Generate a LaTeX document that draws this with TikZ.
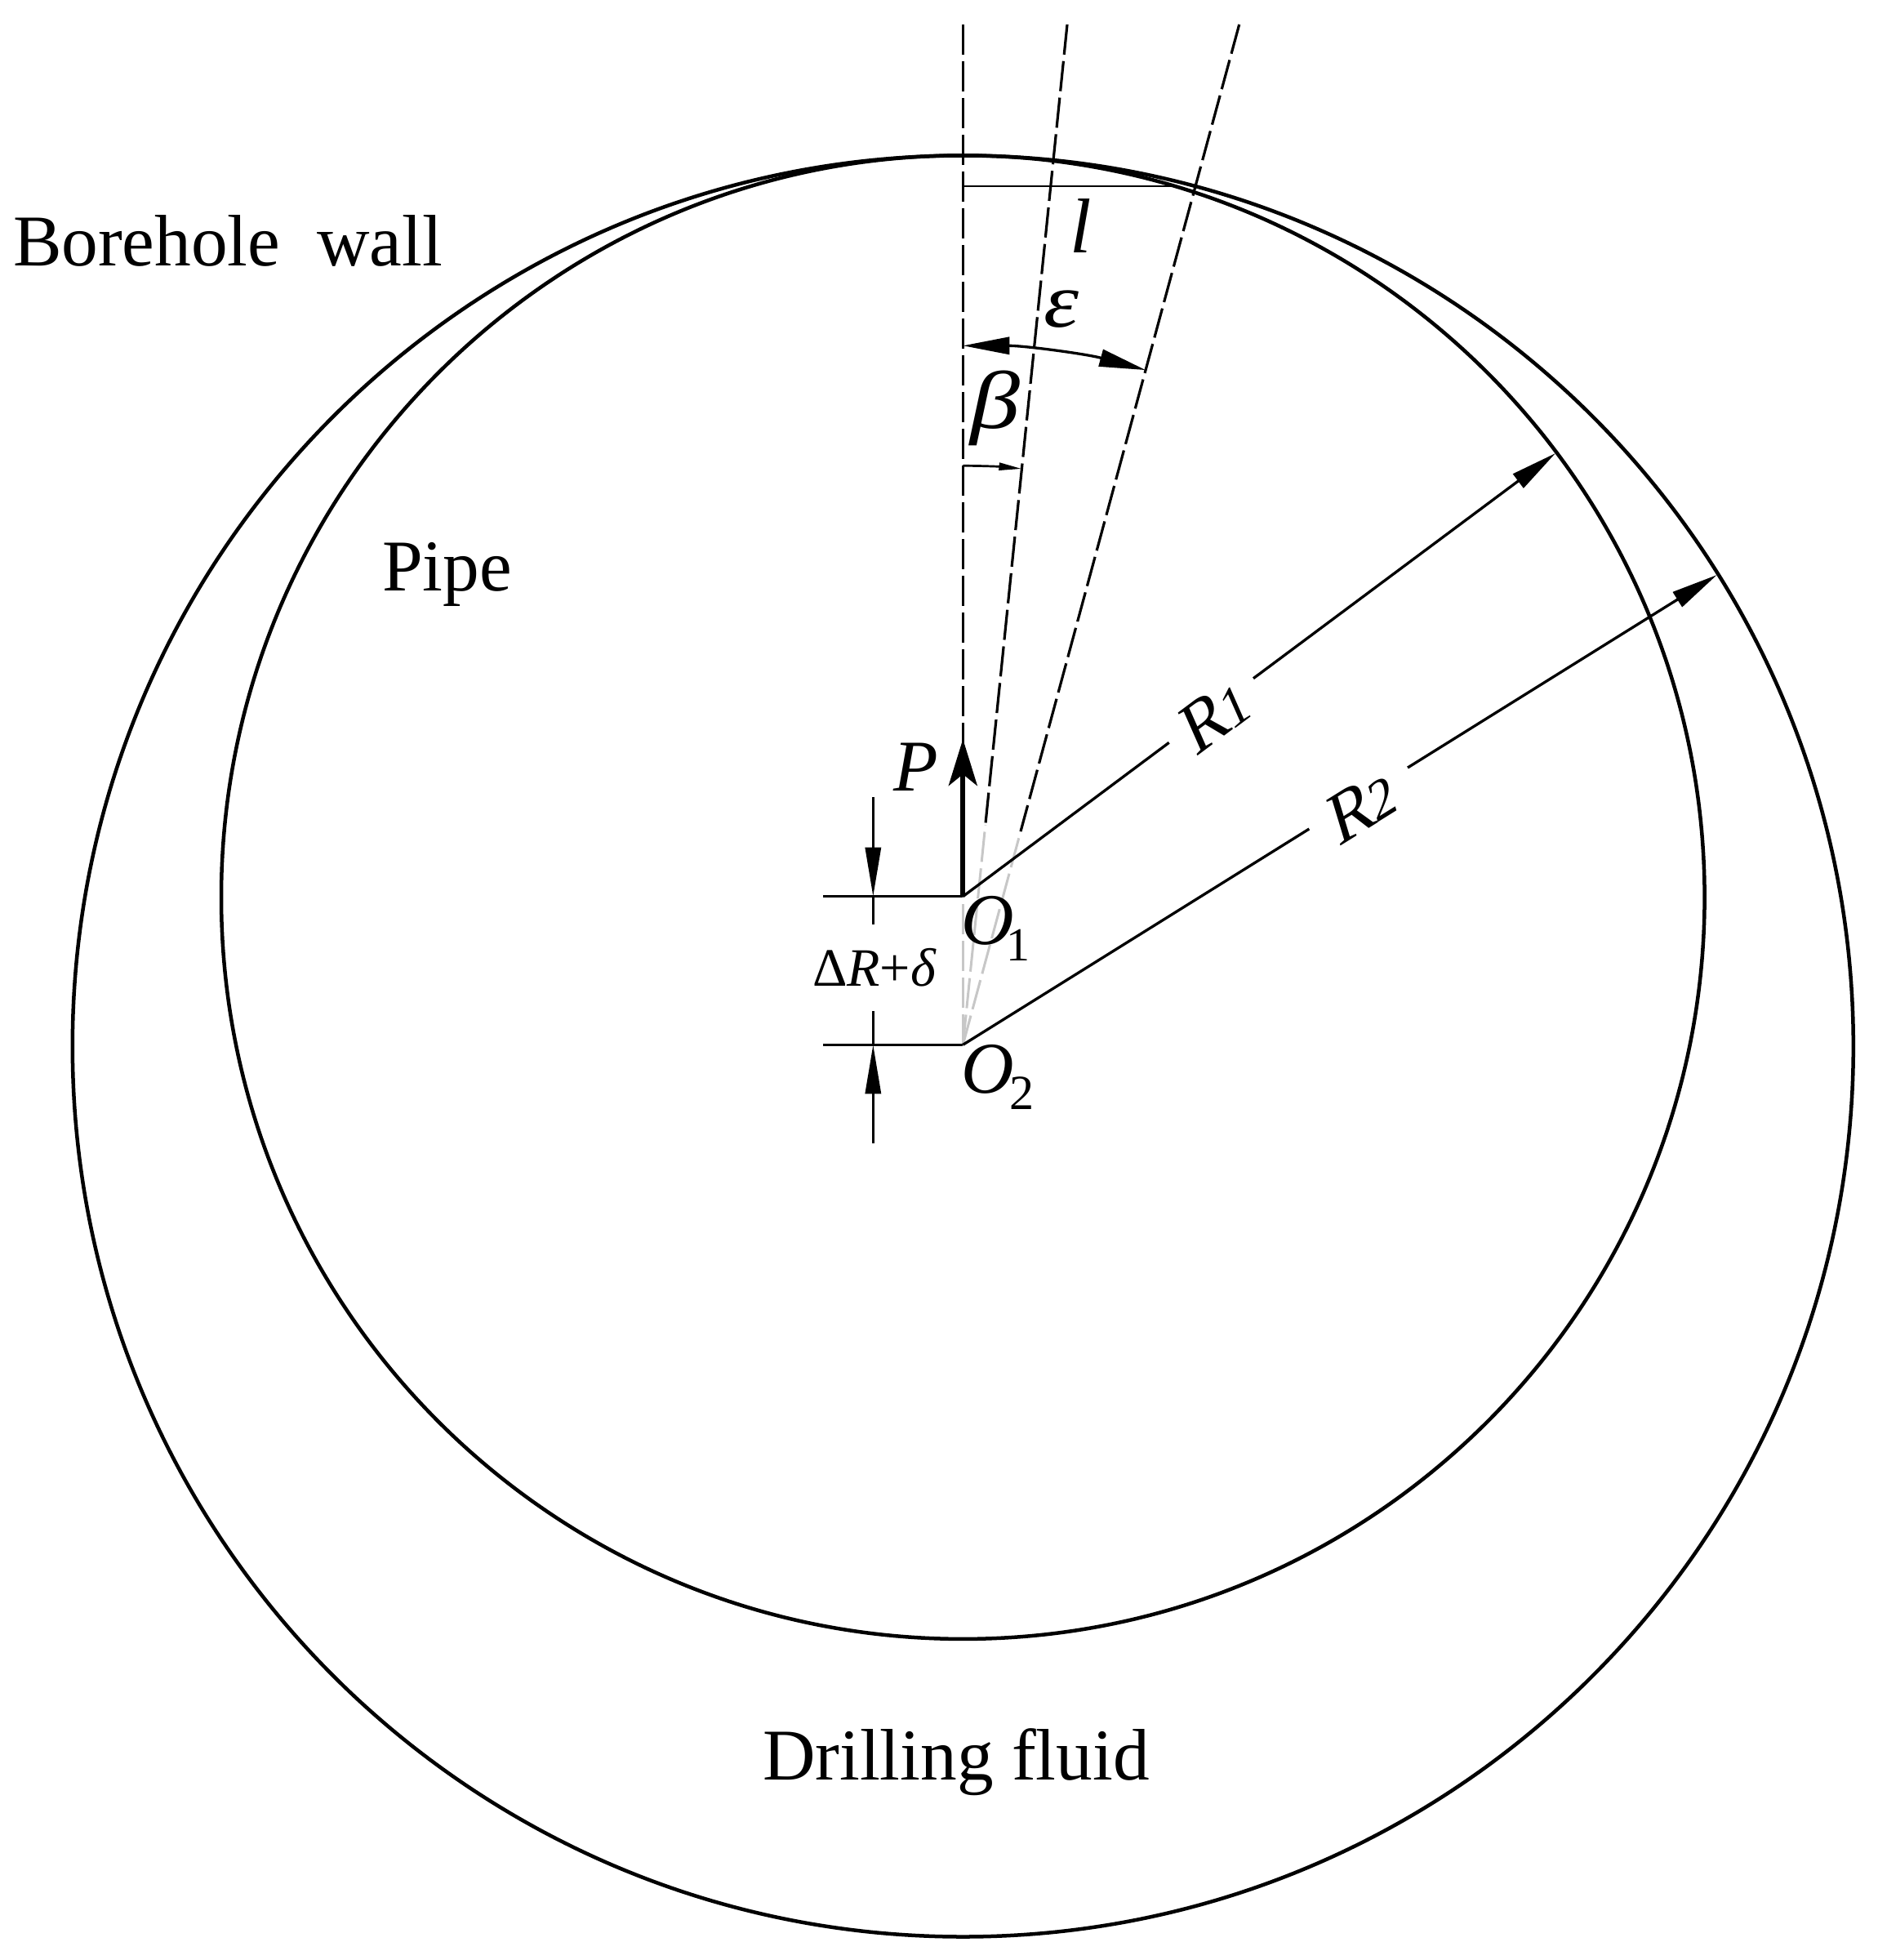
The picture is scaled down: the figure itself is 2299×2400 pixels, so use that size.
\documentclass[tikz,border=0pt]{standalone}
\usepackage{fontspec}
\setmainfont{Liberation Serif}
\usetikzlibrary{arrows.meta}
\tikzset{
  txt/.style={anchor=base west,inner sep=0pt,outer sep=0pt,text=black},
  bigtxt/.style={txt,font=\fontsize{25.4}{30}\selectfont},
  wall/.style={draw=black,line width=0.045cm},
  dim/.style={draw=black,line width=0.033cm},
  thin dim/.style={draw=black,line width=0.027cm},
  axisdash/.style={draw=black,line width=0.032cm,dash pattern=on 0.37cm off 0.08cm},
  greydash/.style={draw=black!22,line width=0.03cm,dash pattern=on 0.37cm off 0.08cm},
  bigtip/.tip={Triangle[length=0.57cm,width=0.21cm]},
  smalltip/.tip={Triangle[length=0.28cm,width=0.09cm]},
  rotlabel/.style={inner sep=0pt,outer sep=0pt,transform shape}
}
\begin{document}
\begin{tikzpicture}[x=0.01cm,y=-0.01cm]
\useasboundingbox (0,0) rectangle (2299,2400);
% centres
\coordinate (O1) at (1179.3,1097.7);
\coordinate (O2) at (1179.3,1279.3);
\coordinate (C1) at (1179.3,1098.6);
\coordinate (C2) at (1179.3,1281);
% circles
\draw[wall] (C2) circle[radius=1090.5];
\draw[wall] (C1) circle[radius=908.3];
% centre lines
\coordinate (top0) at (1179.3,30);
\coordinate (top1) at (1307,30);
\coordinate (top2) at (1517.7,30);
\coordinate (split1) at (1206.8,1010);
\coordinate (split2) at (1250,1018);
\draw[greydash] (O2) -- (O1);
\draw[greydash] (O2) -- (split1);
\draw[greydash] (O2) -- (split2);
\draw[axisdash] (top0) -- (O1);
\draw[axisdash] (top1) -- (split1);
\draw[axisdash] (top2) -- (split2);
% l
\coordinate (la) at (1179.3,228);
\coordinate (lb) at (1442,228);
\draw[thin dim] (la) -- (lb);
% angle arcs
\coordinate (e1) at (1179.3,423.3);
\draw[dim,{bigtip}-{bigtip}] (e1) arc[start angle=-90,end angle=-74.84,radius=856];
\coordinate (b1) at (1179.3,570.3);
\draw[thin dim,-{smalltip}] (b1) arc[start angle=-90,end angle=-84.16,radius=709];
% P
\coordinate (Ptip) at (1179.3,905);
\draw[draw=black,line width=0.057cm,-{Stealth[length=0.57cm,width=0.35cm,inset=0.14cm]}] (O1) -- (Ptip);
% radii
\coordinate (r1a) at (1431.7,909.3);
\coordinate (r1b) at (1535,830.7);
\coordinate (r1t) at (1905,555);
\coordinate (r2a) at (1603.3,1015);
\coordinate (r2b) at (1724,940);
\coordinate (r2t) at (2102.7,704);
\draw[dim] (O1) -- (r1a);
\draw[dim,-{bigtip}] (r1b) -- (r1t);
\draw[dim] (O2) -- (r2a);
\draw[dim,-{bigtip}] (r2b) -- (r2t);
% offset dimension
\coordinate (t1) at (1008,1097.7);
\coordinate (t2) at (1008,1279.3);
\coordinate (d1) at (1069.3,976);
\coordinate (d1t) at (1069.3,1097.7);
\coordinate (d1e) at (1069.3,1131.7);
\coordinate (d2) at (1069.3,1400);
\coordinate (d2t) at (1069.3,1279.3);
\coordinate (d2e) at (1069.3,1238);
\draw[dim] (t1) -- (O1);
\draw[dim] (t2) -- (O2);
\draw[dim,-{Triangle[length=0.6cm,width=0.19cm]}] (d1) -- (d1t);
\draw[dim] (d1t) -- (d1e);
\draw[dim,-{Triangle[length=0.6cm,width=0.19cm]}] (d2) -- (d2t);
\draw[dim] (d2t) -- (d2e);
% texts
\node[bigtxt] (tb) at (16,325.7) {Borehole\ \ wall};
\node[bigtxt] (tp) at (468,723.6) {Pipe};
\node[bigtxt] (td) at (934,2179) {Drilling f{}luid};
\node[bigtxt] (tP) at (1094,968) {\itshape P};
\node[bigtxt] (tO1) at (1177,1156) {{\itshape O}\kern-0.095cm\raisebox{-0.2cm}{\fontsize{16.5}{20}\selectfont 1}};
\node[bigtxt] (tO2) at (1177,1338) {{\itshape O}\kern-0.055cm\raisebox{-0.2cm}{\fontsize{17.1}{20}\selectfont 2}};
\node[txt,font=\fontsize{18.8}{22}\selectfont] (tdr) at (995,1207) {Δ{\itshape R}+{\itshape δ}};
\node[txt,font=\fontsize{27}{32}\selectfont] (tl) at (1310,309) {\itshape l};
\node[txt,transform shape,xscale=1.15,font=\fontsize{27}{32}\selectfont\itshape] (te) at (1278,400) {ε};
\node[txt,transform shape,xscale=1.22,font=\fontsize{28.5}{34}\selectfont\itshape] (tbeta) at (1188,524) {β};
\node[rotlabel,rotate=36.8,xslant=0.23,font=\fontsize{24.5}{28}\selectfont] (tr1) at (1488,875) {R\kern-0.03cm\fontsize{19}{20}\selectfont 1};
\node[rotlabel,rotate=31.9,xslant=0.27,font=\fontsize{24.5}{28}\selectfont] (tr2) at (1668,986) {R\kern-0.03cm\fontsize{19}{20}\selectfont 2};
\end{tikzpicture}
\end{document}
